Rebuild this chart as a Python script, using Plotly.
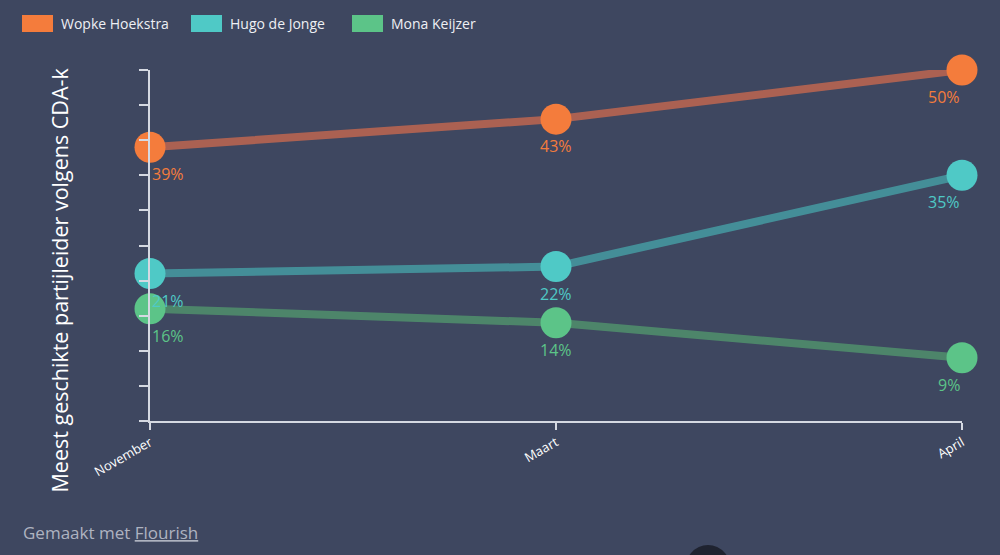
import plotly.graph_objects as go

months = ["November", "Maart", "April"]
names = ["Wopke Hoekstra", "Hugo de Jonge", "Mona Keijzer"]
wopke = [39, 43, 50]
hugo = [21, 22, 35]
mona = [16, 14, 9]
series = [wopke, hugo, mona]
yticks = [0, 5, 10, 15, 20, 25, 30, 35, 40, 45, 50]

marker_colors = ["#f47c3c", "#4fc9c6", "#5cc488"]
line_colors = ["rgba(190,102,80,0.85)", "rgba(69,155,162,0.85)", "rgba(80,145,108,0.85)"]
bg = "#3e4760"

W, H = 1000, 555
L, R, T, B = 150, 38, 70, 134
pw, ph = W - L - R, H - T - B

def px2paper(xp, yp):
    return (xp - L) / pw, (H - B - yp) / ph

fig = go.Figure()
for name, vals, mc, lc in zip(names, series, marker_colors, line_colors):
    fig.add_trace(go.Scatter(
        x=months, y=vals, mode="lines+markers", name=name,
        line=dict(color=lc, width=8),
        marker=dict(color=mc, size=31, line=dict(width=0)),
        cliponaxis=False, showlegend=False, hoverinfo="skip"))

annotations = []
anchors = ["left", "center", "right"]
for vals, mc in zip(series, marker_colors):
    for i, (m, v) in enumerate(zip(months, vals)):
        annotations.append(dict(
            x=m, y=v, xref="x", yref="y", text=f"{v}%", showarrow=False,
            xanchor=anchors[i], yanchor="middle", yshift=-27,
            font=dict(family="Open Sans", size=16, color=mc)))

# y-axis title
ax, ay = px2paper(59, 495)
annotations.append(dict(
    x=ax, y=ay, xref="paper", yref="paper",
    text="Meest geschikte partijleider volgens CDA-k", showarrow=False,
    textangle=-90, xanchor="center", yanchor="bottom",
    font=dict(family="Open Sans", size=21.5, color="#ffffff")))

# custom legend
shapes = []
lx = [22, 191, 352]
for x0, name, mc in zip(lx, names, marker_colors):
    a0 = px2paper(x0, 32)
    a1 = px2paper(x0 + 31, 15)
    shapes.append(dict(type="rect", xref="paper", yref="paper",
                       x0=a0[0], y0=a0[1], x1=a1[0], y1=a1[1],
                       fillcolor=mc, line=dict(width=0), layer="above"))
    t = px2paper(x0 + 37, 23.5)
    annotations.append(dict(x=t[0], y=t[1], xref="paper", yref="paper",
                            text=name, showarrow=False, xanchor="left", yanchor="middle",
                            font=dict(family="Open Sans", size=14, color="#eef0f4")))

# footer
f = px2paper(21, 532)
annotations.append(dict(x=f[0], y=f[1], xref="paper", yref="paper",
                        text="Gemaakt met <u>Flourish</u>", showarrow=False,
                        xanchor="left", yanchor="middle",
                        font=dict(family="Open Sans", size=17, color="#aeb3c0")))

# dark blob at bottom
c0 = px2paper(684, 600)
c1 = px2paper(732, 545)
shapes.append(dict(type="circle", xref="paper", yref="paper",
                   x0=c0[0], y0=c0[1], x1=c1[0], y1=c1[1],
                   fillcolor="#1f2330", line=dict(width=0), layer="above"))

fig.update_layout(
    width=W, height=H,
    margin=dict(l=L, r=R, t=T, b=B),
    paper_bgcolor=bg, plot_bgcolor=bg,
    font=dict(family="Open Sans", color="#ffffff"),
    annotations=annotations, shapes=shapes,
    xaxis=dict(type="category", range=[0, 2], showgrid=False, zeroline=False,
               showline=True, linecolor="#d5d9e2", linewidth=2,
               ticks="outside", ticklen=7, tickcolor="#d5d9e2", tickwidth=2,
               tickangle=-30, tickfont=dict(size=13, color="#ffffff")),
    yaxis=dict(range=[0, 50], showgrid=False, zeroline=False,
               showline=True, linecolor="#d5d9e2", linewidth=2,
               ticks="outside", ticklen=9, tickcolor="#d5d9e2", tickwidth=2,
               tickvals=yticks, showticklabels=False),
)

fig.write_html("out.html")
